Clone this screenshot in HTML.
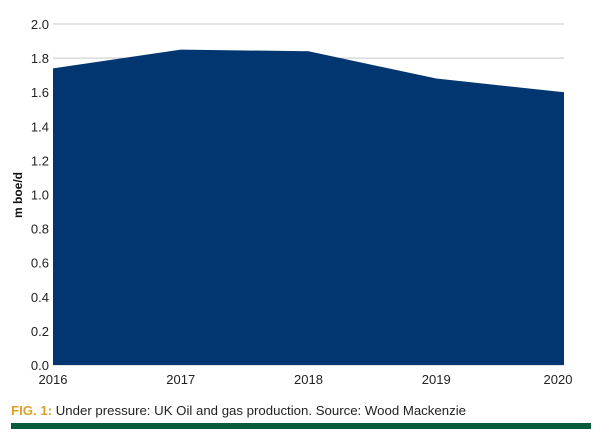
<!DOCTYPE html>
<html><head><meta charset="utf-8"><style>
body{margin:0;background:#fff;width:600px;height:442px;overflow:hidden;font-family:"Liberation Sans",sans-serif}
</style></head><body>
<svg width="600" height="442">
<g id="grid"></g><g id="area"></g><g id="labels"></g>
<text transform="translate(22,195) rotate(-90)" text-anchor="middle" font-size="12" font-weight="bold" fill="#111">m boe/d</text>
<text x="11" y="415" font-size="13" fill="#222" textLength="455" lengthAdjust="spacingAndGlyphs"><tspan fill="#d9a12a" font-weight="bold">FIG. 1:</tspan> Under pressure: UK Oil and gas production. Source: Wood Mackenzie</text>
<rect x="11" y="423" width="580" height="6" fill="#0a5a3c"/>
</svg>
<script>
const years=["2016","2017","2018","2019","2020"];
const values=[1.74,1.85,1.84,1.68,1.60];
const yTicks=[0,0.2,0.4,0.6,0.8,1.0,1.2,1.4,1.6,1.8,2.0];
const NS="http://www.w3.org/2000/svg";
const x0=53,x1=564,yBase=365,yTop=24;
const X=i=>x0+(x1-x0)*i/(years.length-1);
const Y=v=>yBase-(yBase-yTop)*v/2;
const grid=document.getElementById('grid'),area=document.getElementById('area'),lab=document.getElementById('labels');
yTicks.forEach(t=>{
 const l=document.createElementNS(NS,'line');
 
 
 l.setAttribute('x1',x0);l.setAttribute('x2',x1);l.setAttribute('y1',Y(t));l.setAttribute('y2',Y(t));
 l.setAttribute('stroke','#c8c8c8');grid.appendChild(l);
 const tx=document.createElementNS(NS,'text');
 
 
 tx.setAttribute('x',49);tx.setAttribute('y',Y(t)+5);tx.setAttribute('text-anchor','end');
 tx.setAttribute('font-size','13');tx.setAttribute('fill','#222');tx.textContent=t.toFixed(1);lab.appendChild(tx);
});
let d=`M${X(0)},${yBase}`;
values.forEach((v,i)=>d+=` L${X(i)},${Y(v)}`);
d+=` L${X(values.length-1)},${yBase} Z`;
const p=document.createElementNS(NS,'path');


p.setAttribute('d',d);p.setAttribute('fill','#023670');area.appendChild(p);
years.forEach((y,i)=>{
 const tx=document.createElementNS(NS,'text');
 
 
 tx.setAttribute('x',X(i)+(i==0?0:i==years.length-1?-6:0));tx.setAttribute('y',384);tx.setAttribute('text-anchor','middle');
 tx.setAttribute('font-size','13');tx.setAttribute('fill','#222');tx.textContent=y;lab.appendChild(tx);
});
</script>
</body></html>
